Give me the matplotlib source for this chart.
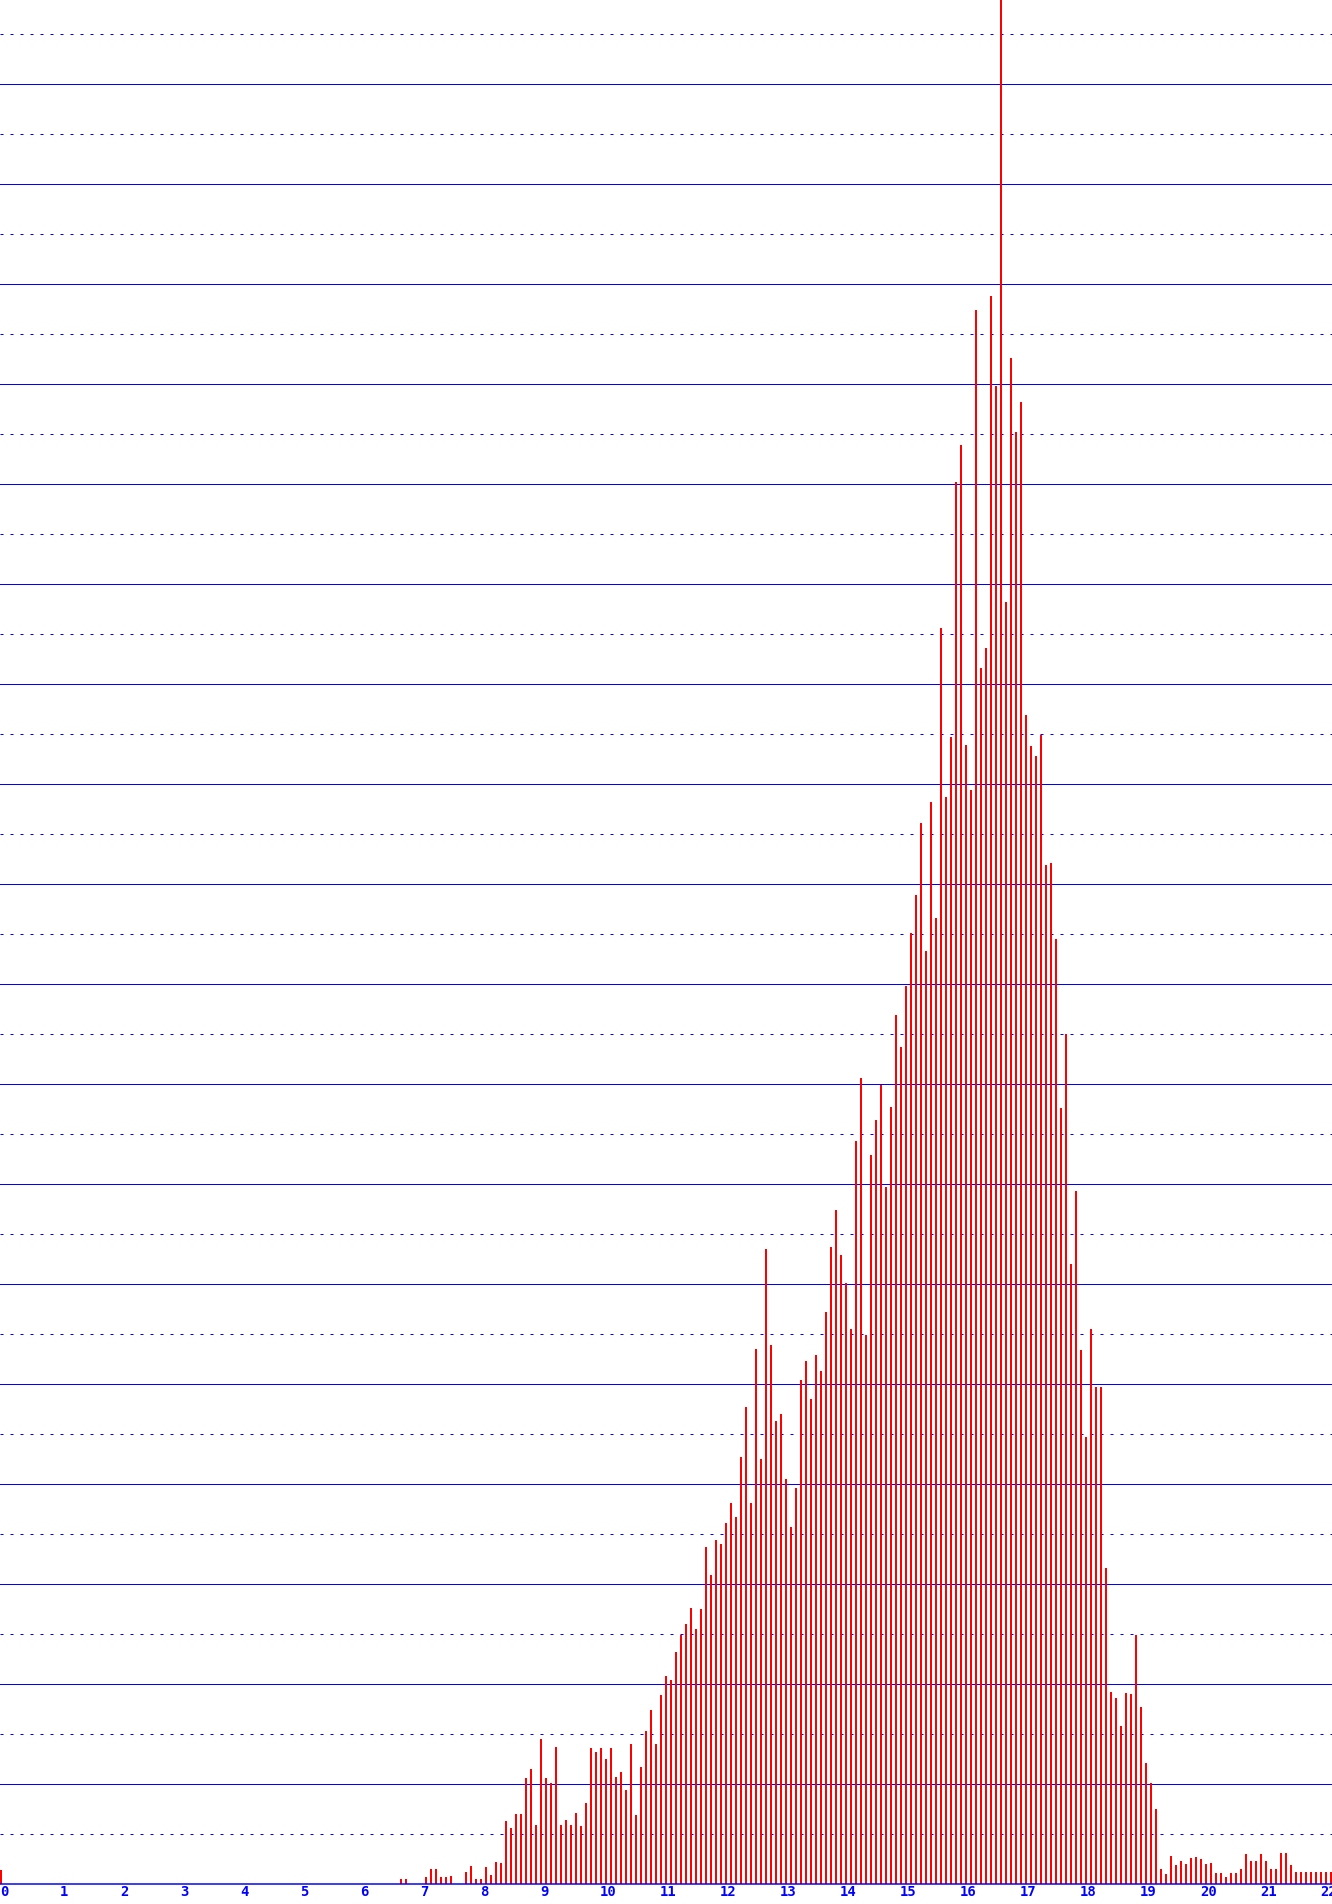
import matplotlib
matplotlib.use("Agg")
import matplotlib.pyplot as plt
import numpy as np

# ---- data: one bar every 1/12 unit starting at 0 ----
bins_per_unit = 12
values = [
    0.14,
    0, 0, 0, 0, 0, 0, 0, 0, 0, 0, 0, 0, 0, 0, 0, 0, 0, 0, 0, 0,
    0, 0, 0, 0, 0, 0, 0, 0, 0, 0, 0, 0, 0, 0, 0, 0, 0, 0, 0, 0,
    0, 0, 0, 0, 0, 0, 0, 0, 0, 0, 0, 0, 0, 0, 0, 0, 0, 0, 0, 0,
    0, 0, 0, 0, 0, 0, 0, 0, 0, 0, 0, 0, 0, 0, 0, 0, 0, 0, 0,
    # n = 80 ..
    0.05, 0.05, 0, 0, 0, 0.07, 0.15, 0.15, 0.07, 0.07,
    0.08, 0, 0, 0.12, 0.18, 0.05, 0.05, 0.17, 0.09, 0.22,
    # n = 100 ..
    0.21, 0.63, 0.56, 0.70, 0.70, 1.06, 1.15, 0.59, 1.45, 1.06,
    1.01, 1.37, 0.59, 0.64, 0.59, 0.71, 0.58, 0.81, 1.36, 1.32,
    # n = 120 ..
    1.36, 1.25, 1.36, 1.07, 1.12, 0.94, 1.40, 0.69, 1.17, 1.53,
    1.74, 1.40, 1.89, 2.08, 2.04, 2.32, 2.49, 2.60, 2.76, 2.55,
    # n = 140 ..
    2.75, 3.37, 3.09, 3.44, 3.40, 3.61, 3.81, 3.67, 4.27, 4.77,
    3.81, 5.35, 4.25, 6.35, 5.39, 4.63, 4.70, 4.05, 3.57, 3.96,
    # n = 160 ..
    5.04, 5.23, 4.85, 5.29, 5.13, 5.72, 6.37, 6.74, 6.29, 6.01,
    5.55, 7.43, 8.06, 5.49, 7.29, 7.64, 7.99, 6.97, 7.77, 8.69,
    # n = 180 ..
    8.37, 8.98, 9.51, 9.89, 10.61, 9.33, 10.82, 9.66, 12.56, 10.87,
    11.47, 14.02, 14.39, 11.39, 10.94, 15.74, 12.16, 12.36, 15.88, 14.98,
    # n = 200 ..
    19.50, 12.82, 15.26, 14.52, 14.82, 11.69, 11.38, 11.28, 11.49, 10.19,
    10.21, 9.45, 7.76, 8.50, 6.20, 6.93, 5.34, 4.47, 5.55, 4.97,
    # n = 220 ..
    4.97, 3.16, 1.92, 1.86, 1.58, 1.91, 1.90, 2.49, 1.77, 1.21,
    1.01, 0.75, 0.15, 0.10, 0.28, 0.19, 0.23, 0.20, 0.26, 0.27,
    # n = 240 ..
    0.25, 0.20, 0.21, 0.11, 0.11, 0.07, 0.11, 0.11, 0.15, 0.30,
    0.23, 0.23, 0.30, 0.23, 0.15, 0.15, 0.31, 0.31, 0.19, 0.12,
    # n = 260 ..
    0.12, 0.12, 0.12, 0.12, 0.12, 0.12, 0.12,
]
tick_values = list(range(0, 23))
tick_labels = [str(v) for v in tick_values]
solid_grid = list(range(1, 19))
dashed_grid = [k + 0.5 for k in range(0, 19)]

# ---- figure ----
W, H, DPI = 1332, 1904, 100
fig = plt.figure(figsize=(W / DPI, H / DPI), dpi=DPI)
fig.patch.set_facecolor("white")
ax = fig.add_axes([0, 20 / H, 1, 1884 / H])
ax.set_facecolor("white")

px = 1 / 60.0  # one pixel in x data units
lw = 72.0 / DPI  # one pixel line width in points

for y in solid_grid:
    ax.axhline(y, color="#0000ff", lw=lw, zorder=1)
for y in dashed_grid:
    ax.axhline(y, color="#0000ff", lw=lw, ls=(0, (3, 7)), zorder=1)
ax.axhline(0, color="#0000ff", lw=lw * 1.5, zorder=4, clip_on=False)

x = np.arange(len(values)) / bins_per_unit
ax.bar(x, values, width=2 * px, align="edge", color="#ff0000",
       linewidth=0, zorder=3, antialiased=False)

ax.set_xlim(0, 1332 / 60.0)
ax.set_ylim(0, 18.84)
ax.set_yticks([])
ax.set_xticks(tick_values)
ax.set_xticklabels(tick_labels, ha="left", color="#0000ff",
                   fontfamily="DejaVu Sans Mono", fontweight="bold",
                   fontsize=10)
ax.tick_params(axis="x", length=0, pad=1)
for s in ax.spines.values():
    s.set_visible(False)

fig.savefig("out.png", dpi=DPI, facecolor="white")
